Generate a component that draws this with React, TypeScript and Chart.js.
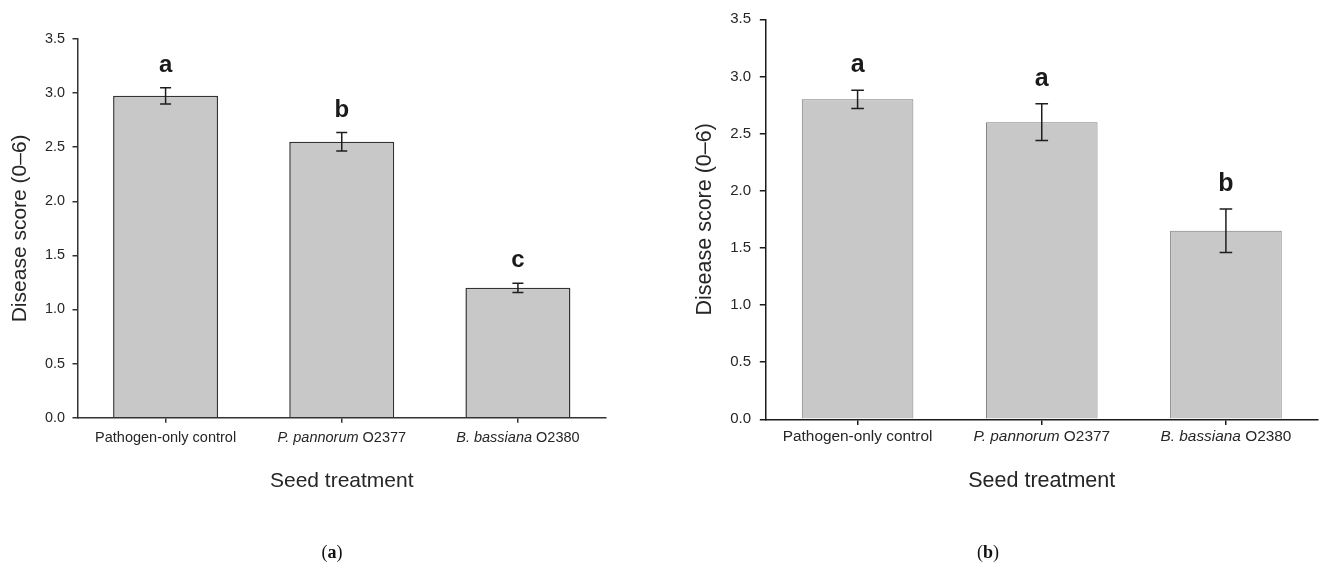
import React, { useEffect, useRef } from 'react';
import { Chart, registerables } from 'chart.js';

Chart.register(...registerables);

// ---------- data ----------
const categoryItalic = ['', 'P. pannorum', 'B. bassiana'];
const categoryPlain = ['Pathogen-only control', ' O2377', ' O2380'];
const categoryLabels = categoryItalic.map((s, i) => s + categoryPlain[i]);

const meansA = [2.975, 2.55, 1.2];
const errorsA = [0.075, 0.085, 0.042];
const lettersA = ['a', 'b', 'c'];

const meansB = [2.8, 2.6, 1.65];
const errorsB = [0.08, 0.16, 0.19];
const lettersB = ['a', 'a', 'b'];

const yMin = 0;
const yMax = 3.5;
const yStep = 0.5;
const yTitle = 'Disease score (0–6)';
const xTitle = 'Seed treatment';
const panelTags = ['a', 'b'];

const SANS = '"Liberation Sans", Arial, Helvetica, sans-serif';

interface PanelStyle {
  left: number;
  width: number;
  height: number;
  padTop: number;
  padRight: number;
  yAxisWidth: number;
  xAxisHeight: number;
  yTitleSize: number;
  yTitlePad: number;
  xTitleSize: number;
  xTitlePad: number;
  tickSize: number;
  tickPad: number;
  tickLen: number;
  catSize: number;
  catOffset: number;
  letterSize: number;
  letterGap: number;
  barPct: number;
  barBorder: string;
  barBorderWidth: number;
  axisColor: string;
  axisWidth: number;
  errWidth: number;
  capHalf: number;
  tagX: number;
}

const styleA: PanelStyle = {
  left: 0, width: 660, height: 576,
  padTop: 39, padRight: 54,
  yAxisWidth: 77.5, xAxisHeight: 158.3,
  yTitleSize: 21, yTitlePad: 7.4,
  xTitleSize: 21, xTitlePad: 82.4,
  tickSize: 14.4, tickPad: 7.5, tickLen: 5,
  catSize: 14.5, catOffset: 20,
  letterSize: 24, letterGap: 16,
  barPct: 0.596,
  barBorder: '#333333', barBorderWidth: 1.5,
  axisColor: '#333333', axisWidth: 1.5,
  errWidth: 1.5, capHalf: 5.5,
  tagX: 332,
};

const styleB: PanelStyle = {
  left: 660, width: 663, height: 576,
  padTop: 19.3, padRight: 5,
  yAxisWidth: 105.5, xAxisHeight: 156.7,
  yTitleSize: 21.5, yTitlePad: 32.1,
  xTitleSize: 21.5, xTitlePad: 82.1,
  tickSize: 15, tickPad: 8.8, tickLen: 5.7,
  catSize: 15.4, catOffset: 17,
  letterSize: 25, letterGap: 18,
  barPct: 0.606,
  barBorder: '#7a7a7a', barBorderWidth: 1,
  axisColor: '#1a1a1a', axisWidth: 1.5,
  errWidth: 1.5, capHalf: 6.3,
  tagX: 988,
};

const TEXT = '#262626';

function Panel({ means, errors, letters, st }: { means: number[]; errors: number[]; letters: string[]; st: PanelStyle }) {
  const ref = useRef<HTMLCanvasElement | null>(null);

  useEffect(() => {
    const canvas = ref.current;
    if (!canvas) return;

    const overlay = {
      id: 'overlay',
      afterDatasetsDraw(chart: any) {
        const ctx = chart.ctx;
        const meta = chart.getDatasetMeta(0);
        const ys = chart.scales.y;
        ctx.save();
        meta.data.forEach((bar: any, i: number) => {
          const yt = ys.getPixelForValue(means[i] + errors[i]);
          const yb = ys.getPixelForValue(means[i] - errors[i]);
          ctx.strokeStyle = '#1e1e1e';
          ctx.lineWidth = st.errWidth;
          ctx.beginPath();
          ctx.moveTo(bar.x, yt);
          ctx.lineTo(bar.x, yb);
          ctx.moveTo(bar.x - st.capHalf, yt);
          ctx.lineTo(bar.x + st.capHalf, yt);
          ctx.moveTo(bar.x - st.capHalf, yb);
          ctx.lineTo(bar.x + st.capHalf, yb);
          ctx.stroke();
          ctx.fillStyle = '#1a1a1a';
          ctx.font = `bold ${st.letterSize}px ${SANS}`;
          ctx.textAlign = 'center';
          ctx.textBaseline = 'alphabetic';
          ctx.fillText(letters[i], bar.x, yt - st.letterGap);
        });
        ctx.restore();
      },
      afterDraw(chart: any) {
        const ctx = chart.ctx;
        const xs = chart.scales.x;
        const y = chart.chartArea.bottom + st.catOffset;
        ctx.save();
        ctx.fillStyle = TEXT;
        ctx.textBaseline = 'middle';
        ctx.textAlign = 'left';
        categoryLabels.forEach((_, i) => {
          const cx = xs.getPixelForTick(i);
          const italicFont = `italic ${st.catSize}px ${SANS}`;
          const plainFont = `${st.catSize}px ${SANS}`;
          ctx.font = italicFont;
          const wi = ctx.measureText(categoryItalic[i]).width;
          ctx.font = plainFont;
          const wp = ctx.measureText(categoryPlain[i]).width;
          let x0 = cx - (wi + wp) / 2;
          if (categoryItalic[i]) {
            ctx.font = italicFont;
            ctx.fillText(categoryItalic[i], x0, y);
            x0 += wi;
          }
          ctx.font = plainFont;
          ctx.fillText(categoryPlain[i], x0, y);
        });
        ctx.restore();
      },
    };

    const chart = new Chart(canvas, {
      type: 'bar',
      data: {
        labels: categoryLabels,
        datasets: [
          {
            data: means,
            backgroundColor: '#c8c8c8',
            borderColor: st.barBorder,
            borderWidth: st.barBorderWidth,
            barPercentage: st.barPct,
            categoryPercentage: 1,
          },
        ],
      },
      options: {
        responsive: false,
        animation: false,
        layout: { padding: { top: st.padTop, right: st.padRight, left: 0, bottom: 0 } },
        plugins: { legend: { display: false }, tooltip: { enabled: false } },
        scales: {
          x: {
            type: 'category',
            offset: true,
            grid: { display: true, drawOnChartArea: false, drawTicks: true, tickLength: st.tickLen, offset: false, color: st.axisColor, lineWidth: st.axisWidth },
            border: { display: true, color: st.axisColor, width: st.axisWidth, z: 1 },
            ticks: { display: false },
            title: {
              display: true,
              text: xTitle,
              color: TEXT,
              font: { family: SANS, size: st.xTitleSize },
              padding: { top: 0, bottom: st.xTitlePad },
            },
            afterFit: (scale: any) => {
              scale.height = st.xAxisHeight;
            },
          },
          y: {
            type: 'linear',
            min: yMin,
            max: yMax,
            grid: { display: true, drawOnChartArea: false, drawTicks: true, tickLength: st.tickLen, color: st.axisColor, lineWidth: st.axisWidth },
            border: { display: true, color: st.axisColor, width: st.axisWidth, z: 1 },
            ticks: {
              stepSize: yStep,
              padding: st.tickPad,
              color: TEXT,
              font: { family: SANS, size: st.tickSize },
              callback: (v: any) => Number(v).toFixed(1),
            },
            title: {
              display: true,
              text: yTitle,
              color: TEXT,
              font: { family: SANS, size: st.yTitleSize },
              padding: { top: st.yTitlePad, bottom: 0 },
            },
            afterFit: (scale: any) => {
              scale.width = st.yAxisWidth;
            },
          },
        },
      } as any,
      plugins: [overlay],
    });

    return () => chart.destroy();
  }, []);

  return (
    <canvas
      ref={ref}
      width={st.width}
      height={st.height}
      style={{ position: 'absolute', left: st.left, top: 0, width: st.width, height: st.height }}
    />
  );
}

function Tag({ letter, cx }: { letter: string; cx: number }) {
  return (
    <div
      style={{
        position: 'absolute',
        left: cx - 40,
        top: 541,
        width: 80,
        textAlign: 'center',
        fontFamily: '"Liberation Serif", "DejaVu Serif", serif',
        fontSize: 18,
        lineHeight: '22px',
        color: '#111',
      }}
    >
      (<b>{letter}</b>)
    </div>
  );
}

export default function App() {
  return (
    <div style={{ position: 'absolute', left: 0, top: 0, width: 1323, height: 576, background: '#fff', overflow: 'hidden' }}>
      <Panel means={meansA} errors={errorsA} letters={lettersA} st={styleA} />
      <Panel means={meansB} errors={errorsB} letters={lettersB} st={styleB} />
      <Tag letter={panelTags[0]} cx={styleA.tagX} />
      <Tag letter={panelTags[1]} cx={styleB.tagX} />
    </div>
  );
}
